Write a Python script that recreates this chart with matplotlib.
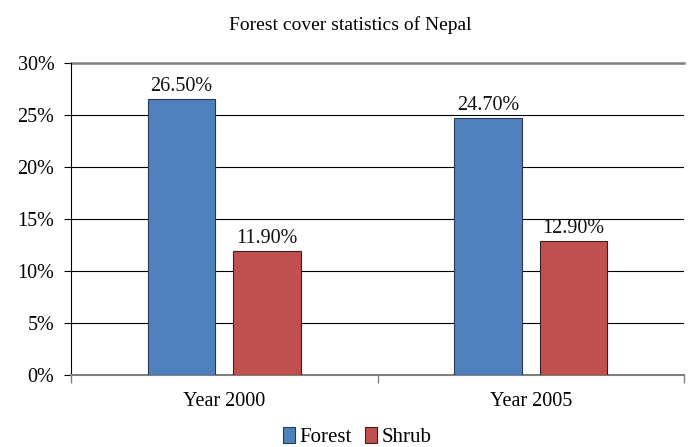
import matplotlib
matplotlib.use("Agg")
import matplotlib.pyplot as plt
import numpy as np
from matplotlib.ticker import FuncFormatter

categories = ["Year 2000", "Year 2005"]
forest = [26.5, 24.7]
shrub = [11.9, 12.9]
series_names = ["Forest", "Shrub"]
title = "Forest cover statistics of Nepal"

plt.rcParams['font.family'] = ['Liberation Serif', 'DejaVu Serif']

fig = plt.figure(figsize=(6.92, 4.47), dpi=100)
ax = fig.add_axes([71/692, 1-375/447, (684-71)/692, (375-63)/447])

x = np.arange(len(categories))
w = 0.22
off = 0.14
b1 = ax.bar(x - off, forest, w, color='#4F81BD', edgecolor='#2a3a4f', linewidth=0.8, label=series_names[0], zorder=3)
b2 = ax.bar(x + off, shrub, w, color='#C0504D', edgecolor='#3a2020', linewidth=0.8, label=series_names[1], zorder=3)

for rects, vals in ((b1, forest), (b2, shrub)):
    for r, v in zip(rects, vals):
        ax.text(r.get_x() + r.get_width()/2, v + 0.3, f"{v:.2f}%", ha='center', va='bottom', fontsize=14.5, color='#111111')

ax.set_xlim(-0.5, 1.5)
ax.set_ylim(0, 30)
ax.set_yticks(np.arange(0, 31, 5))
ax.yaxis.set_major_formatter(FuncFormatter(lambda v, p: f"{int(v)}%"))
ax.yaxis.grid(True, color='#000000', linewidth=0.8, zorder=0)
ax.set_axisbelow(True)

ax.set_xticks([-0.5, 0.5, 1.5])
ax.set_xticklabels([])
ax.set_xticks(x, minor=True)
ax.set_xticklabels(categories, minor=True, fontsize=14.5)
ax.tick_params(axis='x', which='minor', length=0, pad=12)
ax.tick_params(axis='x', which='major', length=6, direction='out', color='#808080', width=1)
ax.tick_params(axis='y', length=5, direction='out', labelsize=14.5, width=0.8, pad=7)

for s in ('top', 'right'):
    ax.spines[s].set_visible(False)
ax.spines['left'].set_color('#000000')
ax.spines['left'].set_linewidth(0.8)
ax.spines['bottom'].set_color('#808080')
ax.spines['bottom'].set_linewidth(1.5)
ax.axhline(30, color='#808080', linewidth=1.8, zorder=1, clip_on=False)

fig.text(350/692, 1-25/447, title, ha='center', va='center', fontsize=14)

fig.legend(handles=[b1, b2], labels=series_names, loc='center', bbox_to_anchor=(357/692, 1-437/447),
           ncol=2, frameon=False, fontsize=15, handlelength=0.6, handleheight=0.8,
           handletextpad=0.2, columnspacing=0.6, borderpad=0)

fig.savefig("out.png", dpi=100)
